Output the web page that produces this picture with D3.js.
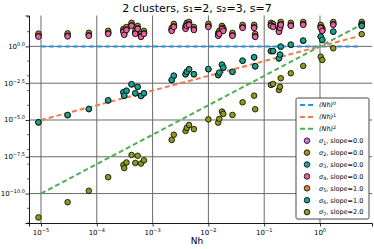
<!DOCTYPE html>
<html>
<head>
<meta charset="utf-8">
<script src="https://cdn.jsdelivr.net/npm/d3@7"></script>
<style>
  body { margin: 0; background: #fff; }
  svg { font-family: "DejaVu Sans", sans-serif; }
</style>
</head>
<body>
<div id="chart"></div>
<script>

// Nh values shared by all series
const nh = [9.0e-6, 3.0e-5, 7.2e-5, 1.6e-4, 3.0e-4, 3.1e-4, 3.4e-4, 4.2e-4, 4.9e-4, 5.4e-4,
    6.2e-4, 7.0e-4, 2.2e-3, 2.4e-3, 3.9e-3, 4.1e-3, 4.5e-3, 5.5e-3, 1.0e-2, 1.5e-2,
    1.57e-2, 1.75e-2, 1.85e-2, 2.7e-2, 4.1e-2, 6.6e-2, 6.9e-2, 0.132, 0.144, 0.184,
    0.192, 0.198, 0.30, 0.50, 1.03, 1.1, 1.73, 5.6];

const sigma1 = [5.8, 6.0, 6.5, 8.9, 12.1, 7.6, 16, 31, 8.9, 19.4, 5.5, 8.9, 14.1, 26, 19.4, 31, 36, 16, 26, 6.5,
    8.9, 19.4, 14.1, 6.5, 22.5, 22.5, 5.5, 31, 26, 12.1, 22.5, 36, 31, 36, 22.5, 14.1, 36, 36];
const sigma2 = [7.4, 7.7, 8.3, 11.4, 15.5, 9.8, 21, 40, 11.4, 25, 7.0, 11.4, 18, 34, 25, 40, 46, 21, 34, 8.3,
    11.4, 25, 18, 8.3, 29, 29, 7.0, 40, 34, 15.5, 29, 46, 40, 46, 29, 18, 46, 46];
const sigma3 = [5.1, 5.3, 5.7, 7.8, 10.7, 6.7, 14.3, 27.5, 7.8, 17, 4.8, 7.8, 12.4, 23, 17, 27.5, 32, 14.3, 23, 5.7,
    7.8, 17, 12.4, 5.7, 19.8, 19.8, 4.8, 27.5, 23, 10.7, 19.8, 32, 27.5, 32, 19.8, 12.4, 32, 32];
const sigma4 = [4.6, 4.8, 5.2, 7.1, 9.7, 6.1, 13, 25, 7.1, 15.5, 4.4, 7.1, 11.3, 21, 15.5, 25, 29, 13, 21, 5.2,
    7.1, 15.5, 11.3, 5.2, 18, 18, 4.4, 25, 21, 9.7, 18, 29, 25, 29, 18, 11.3, 29, 29];
const sigma5 = [6.8e-6, 2.1e-5, 5.5e-5, 2.1e-4, 7.5e-4, 4.4e-4, 9.5e-4, 2.6e-3, 6.4e-4, 1.75e-3,
    4.2e-4, 6.4e-4, 5.1e-3, 1.0e-2, 1.25e-2, 1.85e-2, 2.7e-2, 1.25e-2, 2.8e-2, 1.1e-2,
    1.6e-2, 5.6e-2, 3.5e-2, 1.85e-2, 0.105, 0.18, 4.4e-2, 0.47, 0.47, 0.152,
    0.27, 0.94, 1.28, 2.4, 4.5, 2.7, 9.9, 24];
const sigma6 = [7.0e-6, 2.2e-5, 5.6e-5, 2.2e-4, 7.7e-4, 4.5e-4, 9.8e-4, 2.7e-3, 6.6e-4, 1.8e-3,
    4.3e-4, 6.6e-4, 5.3e-3, 1.03e-2, 1.3e-2, 1.9e-2, 2.8e-2, 1.3e-2, 2.9e-2, 1.15e-2,
    1.65e-2, 5.8e-2, 3.6e-2, 1.9e-2, 0.108, 0.184, 4.5e-2, 0.49, 0.49, 0.157,
    0.277, 0.97, 1.32, 2.5, 4.6, 2.8, 10.2, 25];
const sigma7 = [2.4e-12, 2.6e-11, 1.55e-10, 1.3e-9, 8.7e-9, 5.4e-9, 1.3e-8, 4.2e-8, 1.2e-8, 3.7e-8,
    1.1e-8, 1.8e-8, 4.4e-7, 1.0e-6, 1.8e-6, 2.9e-6, 4.6e-6, 2.4e-6, 1.1e-5, 6.6e-6,
    1.2e-5, 3.7e-5, 2.6e-5, 2.2e-5, 1.6e-4, 4.5e-4, 5.4e-5, 2.4e-3, 2.8e-3, 1.1e-3,
    1.8e-3, 6.9e-3, 1.5e-2, 4.7e-2, 0.2, 0.12, 0.75, 6.8];

const seriesNames = ["1", "2", "3", "4", "5", "6", "7"];
const slopes = ["0.0", "0.0", "0.0", "0.0", "1.0", "1.0", "2.0"];
const seriesValues = [sigma1, sigma2, sigma3, sigma4, sigma5, sigma6, sigma7];
const seriesColors = ["#c57be0", "#a8901e", "#1fa2aa", "#ea5f9c", "#d3892a", "#17a58f", "#8f9a18"];

// reference power lines (Nh)^k
const powers = [0, 1, 2];
const powerColors = ["#1e96f0", "#ee7a52", "#4caf50"];
const lineRange = [1e-5, 4.8];

const xTicks = [-5, -4, -3, -2, -1, 0];
const yTicks = ["0.0", "−2.5", "−5.0", "−7.5", "−10.0"];
const yTickExp = [0, -2.5, -5, -7.5, -10];
const yMinorExp = [2, 1, -1, -2, -3, -4, -6, -7, -8, -9, -11, -12];

const width = 374, height = 249;
const margin = {top: 15.5, right: 2, bottom: 26, left: 29};

const svg = d3.select("#chart").append("svg")
    .attr("width", width)
    .attr("height", height);

const x = d3.scaleLog()
    .domain([Math.pow(10, -5.215), Math.pow(10, 0.932)])
    .range([margin.left, width - margin.right]);

const y = d3.scaleLog()
    .domain([1e-12, Math.pow(10, 2.1)])
    .range([height - margin.bottom, margin.top]);

// grid
svg.append("g").selectAll("line")
    .data(xTicks)
    .enter().append("line")
    .attr("x1", d => x(Math.pow(10, d))).attr("x2", d => x(Math.pow(10, d)))
    .attr("y1", margin.top).attr("y2", height - margin.bottom)
    .attr("stroke", "#6a6a6a").attr("stroke-width", 1);

svg.append("g").selectAll("line")
    .data(yTickExp)
    .enter().append("line")
    .attr("x1", margin.left).attr("x2", width - margin.right)
    .attr("y1", d => y(Math.pow(10, d))).attr("y2", d => y(Math.pow(10, d)))
    .attr("stroke", "#6a6a6a").attr("stroke-width", 1);

// axes
let xAxis = svg.append("g")
    .attr("transform", `translate(0,${height - margin.bottom})`)
    .call(d3.axisBottom(x).tickValues(xTicks.map(d => Math.pow(10, d))).tickFormat("").tickSizeOuter(0).tickSize(3.5));

let yAxis = svg.append("g")
    .attr("transform", `translate(${margin.left},0)`)
    .call(d3.axisLeft(y).tickValues(yTickExp.map(d => Math.pow(10, d))).tickFormat("").tickSizeOuter(0).tickSize(3.5));

yAxis.append("g").selectAll("line")
    .data(yMinorExp)
    .enter().append("line")
    .attr("x1", 0).attr("x2", -2)
    .attr("y1", d => y(Math.pow(10, d))).attr("y2", d => y(Math.pow(10, d)))
    .attr("stroke", "#000").attr("stroke-width", 0.6);

[xAxis, yAxis].forEach(a => {
    a.select(".domain").attr("stroke", "#000").attr("stroke-width", 0.9);
    a.selectAll(".tick line").attr("stroke", "#000").attr("stroke-width", 0.8);
});

// tick labels with superscripts
xTicks.forEach(d => {
    let t = svg.append("text")
        .attr("x", x(Math.pow(10, d)))
        .attr("y", height - margin.bottom + 12)
        .attr("text-anchor", "middle")
        .attr("font-size", 7);
    t.append("tspan").text("10");
    t.append("tspan").attr("dy", -3).attr("font-size", 5).text(d < 0 ? "−" + (-d) : d);
});

yTicks.forEach((lab, i) => {
    let t = svg.append("text")
        .attr("x", margin.left - 4)
        .attr("y", y(Math.pow(10, yTickExp[i])) + 2.5)
        .attr("text-anchor", "end")
        .attr("font-size", 7);
    t.append("tspan").text("10");
    t.append("tspan").attr("dy", -3).attr("font-size", 5).text(lab);
});

// power lines
const line = d3.line().x(d => x(d[0])).y(d => y(d[1]));
powers.forEach((k, i) => {
    svg.append("path")
        .datum(lineRange.map(v => [v, Math.pow(v, k)]))
        .attr("d", line)
        .attr("fill", "none")
        .attr("stroke", powerColors[i])
        .attr("stroke-width", 2)
        .attr("stroke-dasharray", "5,3");
});

// scatter points
seriesValues.forEach((vals, i) => {
    svg.append("g").selectAll("circle")
        .data(vals)
        .enter().append("circle")
        .attr("cx", (d, j) => x(nh[j]))
        .attr("cy", d => y(d))
        .attr("r", 2.8)
        .attr("fill", seriesColors[i])
        .attr("stroke", "#000")
        .attr("stroke-width", 0.8);
});

// title and label
svg.append("text")
    .attr("x", 197).attr("y", 12)
    .attr("text-anchor", "middle")
    .attr("font-size", 11)
    .text("2 clusters, s₁=2, s₂=3, s=7");

svg.append("text")
    .attr("x", 197).attr("y", 244)
    .attr("text-anchor", "middle")
    .attr("font-size", 9)
    .text("Nh");

// legend
const lg = svg.append("g").attr("transform", "translate(296,98)");
lg.append("rect")
    .attr("width", 73).attr("height", 121)
    .attr("rx", 1.5)
    .attr("fill", "#fff")
    .attr("stroke", "#333")
    .attr("stroke-width", 0.9);

const rowH = 11.9;
powers.forEach((k, i) => {
    let yy = 7 + i * rowH;
    lg.append("line")
        .attr("x1", 4).attr("x2", 18)
        .attr("y1", yy).attr("y2", yy)
        .attr("stroke", powerColors[i])
        .attr("stroke-width", 2)
        .attr("stroke-dasharray", "5,3");
    let t = lg.append("text")
        .attr("x", 23).attr("y", yy + 2.3)
        .attr("font-size", 6.5);
    t.append("tspan").attr("font-style", "italic").text("(Nh)");
    t.append("tspan").attr("dy", -2.5).attr("font-size", 4.8).text(k);
});

seriesNames.forEach((s, i) => {
    let yy = 7 + (i + 3) * rowH;
    lg.append("circle")
        .attr("cx", 11).attr("cy", yy)
        .attr("r", 2.8)
        .attr("fill", seriesColors[i])
        .attr("stroke", "#000")
        .attr("stroke-width", 0.8);
    let t = lg.append("text")
        .attr("x", 23).attr("y", yy + 2.3)
        .attr("font-size", 6.5);
    t.append("tspan").attr("font-style", "italic").text("σ");
    t.append("tspan").attr("dy", 1.5).attr("font-size", 4.8).text(s);
    t.append("tspan").attr("dy", -1.5).text(", slope=" + slopes[i]);
});

</script>
</body>
</html>
